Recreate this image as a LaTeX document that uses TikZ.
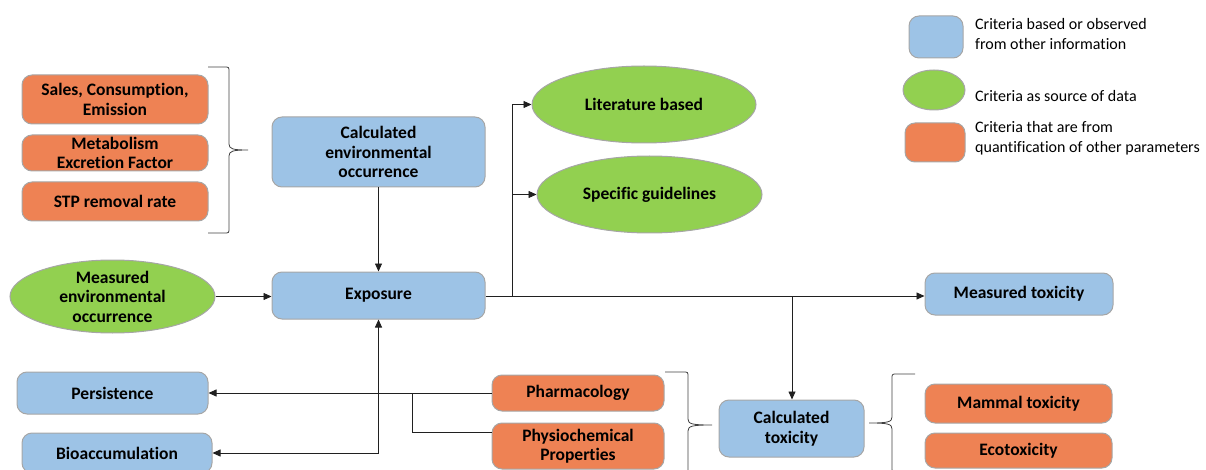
\documentclass[tikz,border=0pt]{standalone}
\usepackage{fontspec}
\setmainfont{Carlito}[Ligatures=NoCommon]
\usetikzlibrary{shapes.geometric,arrows.meta}
\definecolor{cblue}{HTML}{9DC3E6}
\definecolor{cgreen}{HTML}{92D050}
\definecolor{corange}{HTML}{EE8254}
\definecolor{cborder}{HTML}{A6A6A6}
\definecolor{cline}{HTML}{202020}
\definecolor{cbrace}{HTML}{404040}
\begin{document}
\begin{tikzpicture}[x=1pt,y=-1pt,
  base/.style={draw=cborder,line width=1pt,inner sep=0pt,align=center,
    font=\fontsize{17.5}{19.5}\selectfont\bfseries},
  bluebox/.style={base,fill=cblue,rounded corners=10pt},
  orangebox/.style={base,fill=corange,rounded corners=10pt},
  greenell/.style={base,fill=cgreen,ellipse},
  legtext/.style={anchor=west,align=left,inner sep=0pt,font=\fontsize{16}{20}\selectfont},
  conn/.style={draw=cline,line width=0.8pt},
  arr/.style={conn,-{Triangle[length=8pt,width=7pt]}},
  darr/.style={conn,{Triangle[length=8pt,width=7pt]}-{Triangle[length=8pt,width=7pt]}},
  brc/.style={draw=cbrace,line width=0.8pt}
]
\useasboundingbox (0,0) rectangle (1206,470);
\clip (0,0) rectangle (1206,470);

% legend
\node[bluebox,minimum width=54pt,minimum height=42pt] (lb) at (936,37) {};
\node[greenell,minimum width=62pt,minimum height=40pt] (lg) at (934,90) {};
\node[orangebox,minimum width=60pt,minimum height=39pt] (lo) at (935,142.5) {};
\node[legtext] (lbt) at (975,34) {Criteria based or observed\\from other information};
\node[legtext] (lgt) at (975,96) {Criteria as source of data};
\node[legtext] (lot) at (975,138) {Criteria that are from\\quantification of other parameters};

% left orange
\node[orangebox,minimum width=186pt,minimum height=49pt] (sales) at (115,99.5) {Sales, Consumption,\\Emission};
\node[orangebox,minimum width=186pt,minimum height=36pt] (metab) at (115,153) {Metabolism\\Excretion Factor};
\node[orangebox,minimum width=186pt,minimum height=39pt] (stp) at (115,201.5) {STP removal rate};
\draw[brc] (208,67) -- (224,67) .. controls (229,67) .. (229,72) -- (229,144)
  .. controls (229,149) and (233,150) .. (248,150)
  .. controls (233,150) and (229,151) .. (229,156) -- (229,228)
  .. controls (229,233) .. (224,233) -- (208,233);

% centre column
\node[bluebox,minimum width=213pt,minimum height=70pt] (ceo) at (378.5,152) {Calculated\\environmental\\occurrence};
\node[bluebox,minimum width=213pt,minimum height=47pt] (exp) at (378.5,295.5) {Exposure};
\node[greenell,minimum width=205pt,minimum height=73pt] (meo) at (112.5,296.5) {Measured\\environmental\\occurrence};
\node[bluebox,minimum width=191pt,minimum height=42pt] (pers) at (112.5,393) {Persistence};
\node[bluebox,minimum width=190pt,minimum height=40pt] (bio) at (117,453) {Bioaccumulation};

% ellipses top
\node[greenell,minimum width=224pt,minimum height=77pt] (lit) at (644,104.5) {Literature based};
\node[greenell,minimum width=225pt,minimum height=77pt] (spec) at (649.5,194.5) {Specific guidelines};

% right
\node[bluebox,minimum width=188pt,minimum height=42pt] (mtox) at (1019,294) {Measured toxicity};
\node[bluebox,minimum width=145pt,minimum height=57pt] (ctox) at (791.5,428.5) {Calculated\\toxicity};
\node[orangebox,minimum width=172pt,minimum height=36pt] (pharm) at (578,393) {Pharmacology};
\node[orangebox,minimum width=172pt,minimum height=46pt] (phys) at (578,446) {Physiochemical\\Properties};
\node[orangebox,minimum width=187pt,minimum height=39pt] (mamm) at (1018.5,403.5) {Mammal toxicity};
\node[orangebox,minimum width=187pt,minimum height=35pt] (eco) at (1018.5,450.5) {Ecotoxicity};
\draw[brc] (665,372) -- (683,372) .. controls (688,372) .. (688,377) -- (688,419)
  .. controls (688,424) and (692,425) .. (712,425)
  .. controls (692,425) and (688,426) .. (688,431) -- (688,473)
  .. controls (688,478) .. (683,478) -- (665,478);
\draw[brc] (915,374) -- (897,374) .. controls (892,374) .. (892,379) -- (892,417)
  .. controls (892,422) and (888,423) .. (869,423)
  .. controls (888,423) and (892,424) .. (892,429) -- (892,467)
  .. controls (892,472) .. (897,472) -- (915,472);

% connectors
\draw[arr] (ceo.south) -- (exp.north);
\draw[arr] (meo.east) -- (meo.east -| exp.west);
\coordinate (j1) at (512,296);
\coordinate (j2) at (792,296);
\draw[arr] (exp.east |- j1) -- (j1 -| mtox.west);
\draw[arr] (j1) |- (lit.west);
\draw[arr] (j1) |- (spec.west);
\draw[arr] (j2) -- (j2 |- ctox.north);
\draw[arr] (pharm.west) -- (pers.east);
\coordinate (j3) at (412,393);
\coordinate (py) at (0,432);
\draw[conn] (phys.west |- py) -| (j3);
\draw[darr] (bio.east) -| (exp.south);
\end{tikzpicture}
\end{document}
